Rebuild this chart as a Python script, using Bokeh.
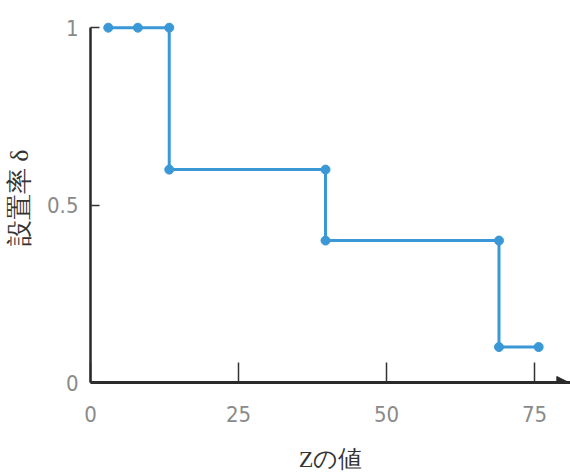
from bokeh.plotting import figure
from bokeh.models import Range1d, FixedTicker, Arrow, NormalHead
from bokeh.embed import file_html
from bokeh.resources import INLINE

# data
z_values = [3, 8, 13.3, 13.3, 39.7, 39.7, 69, 69, 75.7]
delta_values = [1, 1, 1, 0.6, 0.6, 0.4, 0.4, 0.1, 0.1]
x_ticks = [0, 25, 50, 75]
y_ticks = [0, 0.5, 1]
y_tick_labels = {0: "0", 0.5: "0.5", 1: "1"}
x_label = "Zの値"
y_label = "設置率 δ"

PX_X = 5.92
PX_Y = 355
X_END = 81.08
Y_END = 1.04

p = figure(
    output_backend="svg", toolbar_location=None,
    frame_width=480, frame_height=int(round(Y_END * PX_Y)),
    min_border_left=90, min_border_top=13, min_border_right=0, min_border_bottom=0,
    x_range=Range1d(0, X_END), y_range=Range1d(0, Y_END),
)
p.outline_line_color = None
p.grid.visible = False
p.background_fill_color = "white"
p.border_fill_color = "white"

line_color = "#3a98d6"
p.line(z_values, delta_values, line_color=line_color, line_width=3)
p.scatter(z_values, delta_values, size=9, fill_color=line_color, line_color=line_color)

tick_font = "DejaVu Sans Condensed"
label_font = "Liberation Serif"

xa = p.xaxis[0]
xa.ticker = FixedTicker(ticks=x_ticks)
xa.bounds = (0, X_END)
xa.axis_line_color = "#2a2a2a"
xa.axis_line_width = 3
xa.major_tick_in = 20
xa.major_tick_out = 0
xa.major_tick_line_color = "#333333"
xa.major_tick_line_width = 1.5
xa.minor_tick_line_color = None
xa.major_label_standoff = 23
xa.major_label_text_font = tick_font
xa.major_label_text_font_size = "22px"
xa.major_label_text_color = "#8a8a8a"
xa.axis_label = x_label
xa.axis_label_text_font = label_font
xa.axis_label_text_font_size = "24px"
xa.axis_label_text_font_style = "normal"
xa.axis_label_text_color = "#333333"
xa.axis_label_standoff = 21

ya = p.yaxis[0]
ya.ticker = FixedTicker(ticks=y_ticks)
ya.bounds = (0, 1)
ya.major_label_overrides = y_tick_labels
ya.axis_line_color = "#2a2a2a"
ya.axis_line_width = 2.5
ya.major_tick_in = 9
ya.major_tick_out = 0
ya.major_tick_line_color = "#333333"
ya.major_tick_line_width = 1.5
ya.minor_tick_line_color = None
ya.major_label_standoff = 12
ya.major_label_text_font = tick_font
ya.major_label_text_font_size = "22px"
ya.major_label_text_color = "#8a8a8a"
ya.axis_label = y_label
ya.axis_label_text_font = label_font
ya.axis_label_text_font_size = "26px"
ya.axis_label_text_font_style = "normal"
ya.axis_label_text_color = "#333333"
ya.axis_label_standoff = 10

p.add_layout(Arrow(
    end=NormalHead(size=12, fill_color="#2a2a2a", line_color="#2a2a2a"),
    x_start=78, y_start=0, x_end=80.8, y_end=0,
    line_color="#2a2a2a", line_width=3,
))

open("out.html", "w").write(file_html(p, INLINE))
